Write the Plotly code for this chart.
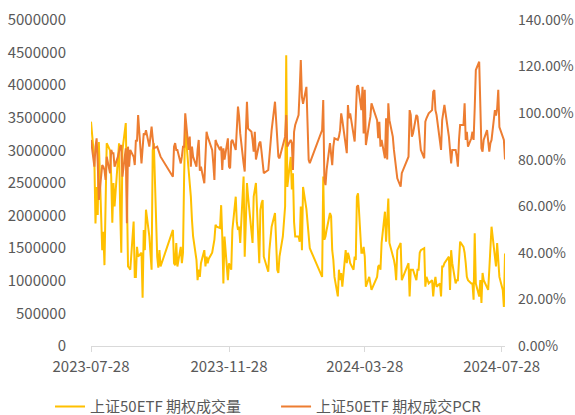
import pandas as pd
import plotly.graph_objects as go

# Trading calendar (SSE), 2023-07-28 .. 2024-07-31
holidays = ["2023-09-29", "2023-10-02", "2023-10-03", "2023-10-04", "2023-10-05",
            "2023-10-06", "2024-01-01", "2024-02-09", "2024-02-12", "2024-02-13",
            "2024-02-14", "2024-02-15", "2024-02-16", "2024-04-04", "2024-04-05",
            "2024-05-01", "2024-05-02", "2024-05-03", "2024-06-10"]
days = pd.bdate_range("2023-07-28", "2024-07-31")
dates = [d for d in days if d.strftime("%Y-%m-%d") not in holidays]

# 上证50ETF 期权成交量 (contracts)
volume = [
    3440000, 2850000,
    1880000, 2440000, 2010000, 3130000, 1470000, 1750000, 1240000, 2500000, 3110000,
    3000000, 2600000, 1890000, 2500000, 2140000, 2900000, 3110000, 2090000, 1430000,
    3000000, 3420000, 2350000, 1220000, 1200000,
    1170000, 1910000, 1060000, 1060000, 1520000, 1370000, 1430000, 740000, 1780000,
    1470000, 2090000, 1680000, 1370000, 1170000, 3000000, 3110000, 1370000, 1200000,
    1470000, 1220000,
    1780000, 1270000, 1240000, 1580000, 1220000, 1520000, 1270000, 1430000, 2600000,
    3360000, 2700000, 2500000, 2290000, 1930000, 1680000, 1320000, 1010000,
    1170000, 1060000, 1270000, 1470000, 1220000, 1370000, 1270000, 1340000, 1430000,
    1520000, 1630000, 1860000, 1830000, 1810000, 2160000, 1680000, 960000, 1680000,
    1010000, 1270000, 1220000, 1170000,
    1780000, 2290000, 1890000, 1780000, 1830000, 1580000, 2600000, 1370000, 1890000,
    2500000, 2290000, 1730000, 1580000, 2290000, 2390000, 2500000, 1270000, 2090000,
    2190000, 2240000, 1370000,
    1140000, 1470000, 1730000, 1830000, 2040000, 1470000, 1170000, 1120000, 1370000,
    1680000, 1990000, 2140000, 4460000, 2440000, 2900000, 2400000, 2650000, 1900000,
    1680000, 1680000, 1600000, 2140000,
    1470000, 2440000, 2100000, 1880000, 1750000, 1500000, 1060000, 2600000, 1630000,
    1680000, 1780000, 2040000, 1990000, 1470000, 1320000,
    1060000, 760000, 1170000, 1010000, 1120000, 910000, 1470000, 1270000, 1430000,
    1370000, 1270000, 1170000, 1370000, 1320000, 2290000, 2340000, 1430000, 1430000,
    1520000, 1370000, 910000,
    1060000, 960000, 860000, 1060000, 1220000, 1240000, 1170000, 1580000, 2060000,
    1600000, 1990000, 2260000, 1580000, 1400000, 1320000, 1220000, 1010000, 1470000,
    1580000, 1010000,
    1270000, 760000, 1170000, 1170000, 1170000, 1010000, 1170000, 1170000, 1430000,
    1470000, 1500000, 910000, 1060000, 1010000, 960000, 1010000, 760000, 960000,
    1060000, 910000,
    960000, 760000, 1220000, 1220000, 1270000, 1370000, 860000, 1470000, 1270000,
    960000, 1010000, 1010000, 1370000, 1600000, 1520000, 1430000, 1270000, 1060000,
    1010000,
    960000, 960000, 710000, 1730000, 960000, 760000, 1010000, 660000, 1120000,
    1010000, 910000, 860000, 1170000, 1470000, 1830000, 1370000, 1220000, 1580000,
    1270000, 1060000, 860000, 600000, 1420000,
]

# 上证50ETF 期权成交PCR (%)
pcr = [
    88.5, 77.0,
    85.6, 89.2, 78.5, 62.7, 77.7, 77.0, 75.6, 71.3, 81.3, 74.2, 84.2, 82.8, 82.8,
    77.0, 81.3, 84.2, 85.6, 86.3, 72.7, 84.9, 52.7, 85.6, 77.0,
    84.2, 81.3, 77.7, 88.5, 87.8, 99.2, 78.4, 87.1, 91.3, 90.6, 92.7, 85.6, 89.9,
    94.2, 89.2, 84.9, 85.6, 84.2, 82.0, 81.3,
    72.7, 85.6, 87.1, 84.2, 84.2, 78.4, 81.3, 85.6, 85.6, 99.9, 84.2, 89.9, 77.0,
    85.6, 81.3, 77.0, 84.2,
    88.5, 75.3, 77.0, 69.9, 85.6, 92.0, 89.9, 88.5, 84.2, 78.4, 71.3, 88.5, 87.1,
    84.2, 85.6, 75.6, 84.9, 80.1, 89.2, 77.0, 76.3, 87.8,
    88.5, 84.2, 92.7, 102.8, 98.5, 91.3, 78.4, 74.9, 91.3, 104.9, 93.4, 92.0, 88.5,
    83.5, 92.0, 80.1, 87.1, 87.8, 83.5, 78.4, 74.2,
    75.6, 81.3, 88.5, 92.7, 104.9, 97.0, 89.9, 81.3, 80.6, 86.3, 87.1, 89.9, 99.2,
    85.6, 88.5, 87.1, 75.6, 92.0, 94.9, 99.2, 109.9, 122.8,
    107.0, 104.0, 111.3, 88.0, 80.0, 78.5, 92.7, 105.6, 71.3, 69.1, 75.6, 87.1, 80.1,
    77.7, 85.6,
    89.2, 88.5, 89.9, 92.7, 99.9, 97.0, 84.2, 82.8, 103.5, 97.8, 99.9, 89.9, 87.8,
    98.5, 111.3, 112.0, 101.3, 111.3, 91.3, 110.0, 86.3,
    95.6, 98.5, 104.2, 97.0, 89.2, 96.3, 85.6, 88.5, 80.6, 97.8, 80.1, 104.2, 97.0,
    89.9, 84.2, 80.1, 74.9, 72.0, 68.4, 74.2,
    81.3, 101.3, 99.2, 89.9, 91.3, 99.2, 98.5, 92.7, 87.1, 84.2, 80.6, 96.3, 97.8,
    99.2, 99.9, 101.3, 109.2, 109.9, 101.3, 99.2,
    87.1, 84.2, 97.0, 99.9, 103.5, 89.9, 84.2, 78.4, 84.2, 84.2, 81.3, 77.0, 88.5,
    94.9, 94.9, 104.2, 88.5, 92.0, 85.6,
    89.2, 92.0, 88.5, 102.1, 118.5, 122.1, 101.3, 84.9, 83.5, 88.5, 92.7, 89.2, 83.5,
    87.1, 88.5, 101.3, 99.0, 102.0, 110.0, 94.0, 90.0, 88.5, 80.1,
]

x_ticks = ["2023-07-28", "2023-11-28", "2024-03-28", "2024-07-28"]
names = ["上证50ETF 期权成交量", "上证50ETF 期权成交PCR"]
colors = ["#FFC000", "#ED7D31"]

assert len(dates) == len(volume) == len(pcr), (len(dates), len(volume), len(pcr))

font_family = "Noto Sans CJK SC, Noto Sans, sans-serif"
grey = "#595959"

fig = go.Figure()
fig.add_trace(go.Scatter(x=dates, y=volume, mode="lines", name=names[0],
                         line=dict(color=colors[0], width=2), yaxis="y",
                         legend="legend"))
fig.add_trace(go.Scatter(x=dates, y=[p / 100 for p in pcr], mode="lines", name=names[1],
                         line=dict(color=colors[1], width=2), yaxis="y2",
                         legend="legend2"))

legend_style = dict(orientation="h", yanchor="top", y=-0.136, xanchor="left",
                    font=dict(size=15, color=grey), bgcolor="rgba(0,0,0,0)")

fig.update_layout(
    width=575, height=415,
    margin=dict(l=91, r=70, t=20, b=69, autoexpand=False),
    paper_bgcolor="white", plot_bgcolor="white",
    font=dict(family=font_family, size=15, color=grey),
    showlegend=True,
    legend=dict(x=-0.099, **legend_style),
    legend2=dict(x=0.447, **legend_style),
    xaxis=dict(type="date", range=["2023-07-28", "2024-07-31"],
               tickvals=x_ticks, ticktext=x_ticks, automargin=False,
               showgrid=False, zeroline=False,
               showline=True, linecolor="#D9D9D9", linewidth=1,
               ticks="outside", ticklen=5, tickcolor="#D9D9D9",
               tickfont=dict(size=15, color=grey), ticklabelstandoff=2),
    yaxis=dict(range=[0, 5000000], dtick=500000, tickformat="d", automargin=False,
               showgrid=False, zeroline=False, showline=False,
               tickfont=dict(size=15, color=grey), ticklabelstandoff=24),
    yaxis2=dict(range=[0, 1.4], dtick=0.2, tickformat=".2%", overlaying="y",
                side="right", showgrid=False, zeroline=False, showline=False,
                automargin=False,
                tickfont=dict(size=14, color=grey), ticklabelstandoff=12),
)

fig.write_html(
    "out.html",
    config={"displayModeBar": False},
    post_script="document.body.style.margin='0';document.body.style.overflow='hidden';",
)
